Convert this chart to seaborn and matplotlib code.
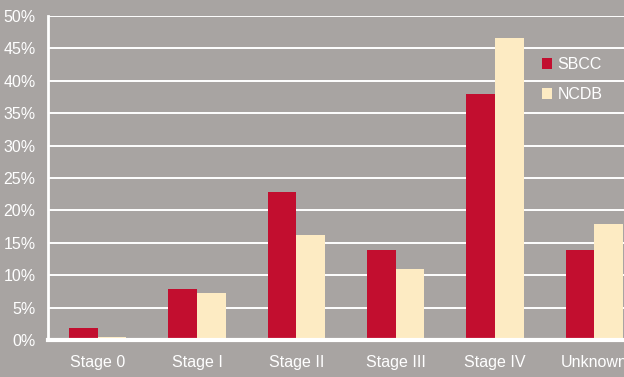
import matplotlib
matplotlib.use("Agg")
import matplotlib.pyplot as plt
import seaborn as sns
import pandas as pd
from matplotlib.ticker import FuncFormatter, MultipleLocator

stages = ["Stage 0", "Stage I", "Stage II", "Stage III", "Stage IV", "Unknown"]
sbcc = [1.9, 7.9, 22.8, 13.9, 37.9, 13.9]
ncdb = [0.5, 7.3, 16.2, 10.9, 46.6, 17.9]
series = ["SBCC", "NCDB"]

df = pd.DataFrame({
    "Stage": stages * 2,
    "Percent": sbcc + ncdb,
    "Source": [series[0]] * len(stages) + [series[1]] * len(stages),
})

BG = "#a8a4a2"
RED = "#c20e2f"
CREAM = "#fdebc3"

sns.set_style("white")
plt.rcParams["font.family"] = ["Liberation Sans", "DejaVu Sans"]

fig = plt.figure(figsize=(6.24, 3.77), dpi=100, facecolor=BG)
ax = fig.add_axes([48 / 624, 1 - 340 / 377, 596 / 624, 324 / 377])
ax.set_facecolor(BG)

sns.barplot(data=df, x="Stage", y="Percent", hue="Source", order=stages,
            hue_order=series, palette=[RED, CREAM], width=0.575,
            saturation=1, linewidth=0, ax=ax, legend=True)

ax.set_xlim(-0.5, 5.5)
ax.set_ylim(0, 50)
ax.yaxis.set_major_locator(MultipleLocator(5))
ax.yaxis.set_major_formatter(FuncFormatter(lambda v, _: f"{v:.0f}%"))
ax.grid(axis="y", color="white", linewidth=1.4)
ax.set_axisbelow(True)
ax.set_xlabel("")
ax.set_ylabel("")

for s in ["top", "right"]:
    ax.spines[s].set_visible(False)
ax.spines["left"].set_color("white")
ax.spines["left"].set_linewidth(2)
ax.spines["bottom"].set_color("white")
ax.spines["bottom"].set_linewidth(3)
ax.spines["left"].set_zorder(3)
ax.spines["bottom"].set_zorder(3)

ax.tick_params(axis="y", length=0, pad=9, labelsize=11.5, labelcolor="white")
ax.tick_params(axis="x", length=0, pad=11, labelsize=11.5, labelcolor="white")

leg = ax.legend(loc="upper left", bbox_to_anchor=(0.829, 0.873), frameon=False,
                handlelength=0.63, handleheight=0.63, handletextpad=0.35,
                labelspacing=0.95, fontsize=11.5, borderaxespad=0, borderpad=0)
for t in leg.get_texts():
    t.set_color("white")

fig.savefig("out.png", dpi=100, facecolor=BG)
